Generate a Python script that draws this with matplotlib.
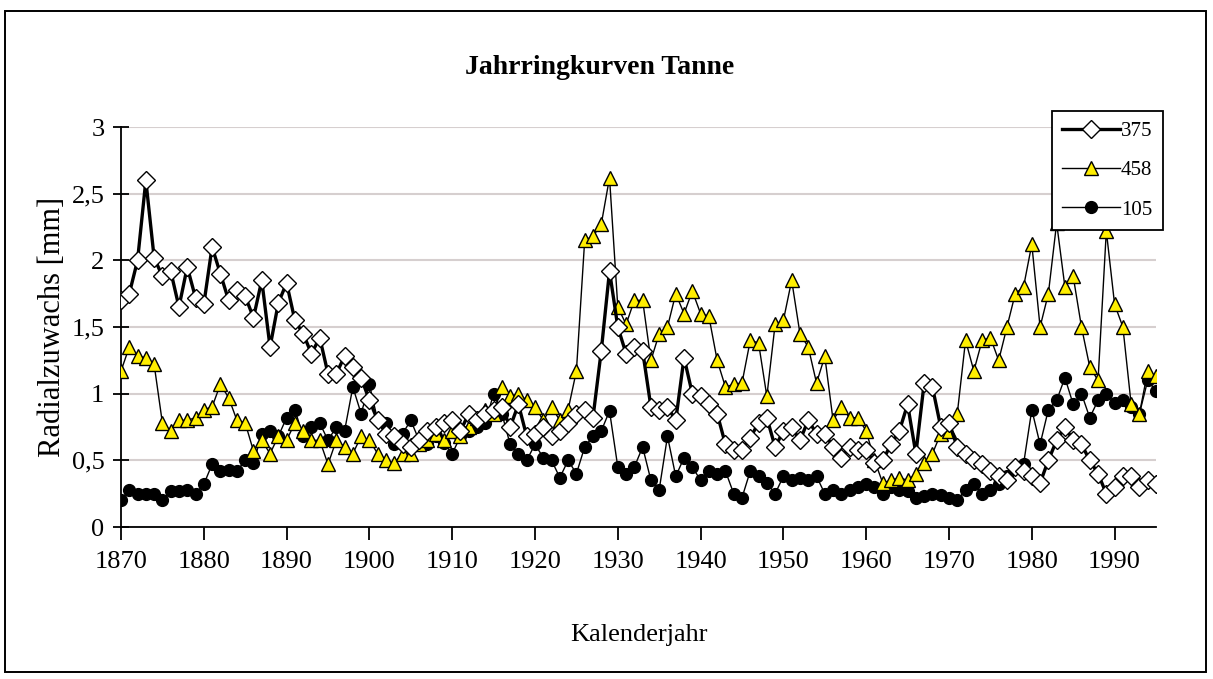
import numpy as np
import matplotlib
matplotlib.use("Agg")
import matplotlib.pyplot as plt
from matplotlib.patches import Rectangle
from matplotlib.lines import Line2D

plt.rcParams['font.family'] = ['Liberation Serif', 'DejaVu Serif']

years = list(range(1870, 1996))

s375 = [1.70, 1.75, 2.00, 2.60, 2.02, 1.88, 1.92, 1.65, 1.95, 1.72,
        1.67, 2.10, 1.90, 1.70, 1.78, 1.73, 1.57, 1.85, 1.35, 1.68,
        1.83, 1.55, 1.45, 1.30, 1.42, 1.15, 1.15, 1.28, 1.20, 1.12,
        0.95, 0.80, 0.70, 0.68, 0.62, 0.60, 0.65, 0.72, 0.75, 0.78,
        0.80, 0.72, 0.85, 0.80, 0.85, 0.88, 0.90, 0.75, 0.92, 0.68,
        0.70, 0.75, 0.68, 0.72, 0.78, 0.85, 0.88, 0.82, 1.32, 1.92,
        1.50, 1.30, 1.35, 1.32, 0.90, 0.88, 0.90, 0.80, 1.27, 1.00,
        0.98, 0.92, 0.85, 0.62, 0.58, 0.58, 0.67, 0.78, 0.82, 0.60,
        0.72, 0.75, 0.65, 0.80, 0.70, 0.70, 0.60, 0.52, 0.60, 0.58,
        0.58, 0.48, 0.50, 0.62, 0.72, 0.92, 0.55, 1.08, 1.05, 0.75,
        0.78, 0.60, 0.55, 0.50, 0.47, 0.42, 0.38, 0.35, 0.45, 0.42,
        0.38, 0.33, 0.50, 0.65, 0.75, 0.65, 0.62, 0.50, 0.40, 0.25,
        0.30, 0.38, 0.38, 0.30, 0.35, 0.32]

s458 = [1.17, 1.35, 1.28, 1.27, 1.22, 0.78, 0.72, 0.80, 0.80, 0.82,
        0.88, 0.90, 1.07, 0.97, 0.80, 0.78, 0.57, 0.65, 0.55, 0.68,
        0.65, 0.78, 0.72, 0.65, 0.65, 0.47, 0.65, 0.60, 0.55, 0.68,
        0.65, 0.55, 0.50, 0.48, 0.55, 0.55, 0.62, 0.65, 0.70, 0.65,
        0.72, 0.68, 0.75, 0.82, 0.88, 0.85, 1.05, 0.98, 1.00, 0.95,
        0.90, 0.80, 0.90, 0.80, 0.88, 1.17, 2.15, 2.18, 2.27, 2.62,
        1.65, 1.52, 1.70, 1.70, 1.25, 1.45, 1.50, 1.75, 1.60, 1.77,
        1.60, 1.58, 1.25, 1.05, 1.07, 1.08, 1.40, 1.38, 0.98, 1.52,
        1.55, 1.85, 1.45, 1.35, 1.08, 1.28, 0.80, 0.90, 0.82, 0.82,
        0.72, 0.50, 0.33, 0.35, 0.37, 0.35, 0.40, 0.48, 0.55, 0.70,
        0.72, 0.85, 1.40, 1.17, 1.40, 1.42, 1.25, 1.50, 1.75, 1.80,
        2.12, 1.50, 1.75, 2.28, 1.80, 1.88, 1.50, 1.20, 1.10, 2.22,
        1.67, 1.50, 0.92, 0.85, 1.17, 1.13]

s105 = [0.20, 0.28, 0.25, 0.25, 0.25, 0.20, 0.27, 0.27, 0.28, 0.25,
        0.32, 0.47, 0.42, 0.43, 0.42, 0.50, 0.48, 0.70, 0.72, 0.68,
        0.82, 0.88, 0.68, 0.75, 0.78, 0.65, 0.75, 0.72, 1.05, 0.85,
        1.07, 0.80, 0.78, 0.62, 0.70, 0.80, 0.65, 0.62, 0.68, 0.63,
        0.55, 0.68, 0.72, 0.75, 0.78, 1.00, 0.85, 0.62, 0.55, 0.50,
        0.62, 0.52, 0.50, 0.37, 0.50, 0.40, 0.60, 0.68, 0.72, 0.87,
        0.45, 0.40, 0.45, 0.60, 0.35, 0.28, 0.68, 0.38, 0.52, 0.45,
        0.35, 0.42, 0.40, 0.42, 0.25, 0.22, 0.42, 0.38, 0.33, 0.25,
        0.38, 0.35, 0.37, 0.35, 0.38, 0.25, 0.28, 0.25, 0.28, 0.30,
        0.32, 0.30, 0.25, 0.30, 0.28, 0.27, 0.22, 0.23, 0.25, 0.24,
        0.22, 0.20, 0.28, 0.32, 0.25, 0.28, 0.32, 0.38, 0.45, 0.47,
        0.88, 0.62, 0.88, 0.95, 1.12, 0.92, 1.00, 0.82, 0.95, 1.00,
        0.93, 0.95, 0.90, 0.85, 1.10, 1.02]

W, H = 1213, 679
fig = plt.figure(figsize=(W / 100, H / 100), dpi=100)
fig.patch.set_facecolor("white")
# outer chart border
fig.patches.append(Rectangle((5 / W, 7 / H), 1201 / W, 661 / H, transform=fig.transFigure,
                             fill=False, ec="black", lw=1.4))

L, R, T, B = 121, 1156, 127, 527   # plot area in pixels; legend sits on top of it (as in Excel)
ax = fig.add_axes([L / W, 1 - B / H, (R - L) / W, (B - T) / H])
ax.plot(years, s105, color="black", lw=1.0, marker="o", ms=8.5, mfc="black", mec="black", label="105", zorder=3)
ax.plot(years, s458, color="black", lw=1.0, marker="^", ms=10, mfc="#ffee00", mec="black", mew=1.0, label="458", zorder=4)
ax.plot(years, s375, color="black", lw=2.4, marker="D", ms=9, mfc="white", mec="black", mew=1.0, label="375", zorder=5)

ax.set_xlim(1870, 1995)
ax.set_ylim(0, 3)
ax.set_xticks(range(1870, 1991, 10))
ax.set_yticks(np.arange(0, 3.01, 0.5))
ax.set_yticklabels(["0", "0,5", "1", "1,5", "2", "2,5", "3"])
ax.yaxis.grid(True, color="#d6cfcf", lw=1.5)
ax.set_axisbelow(True)
for sp in ["top", "right"]:
    ax.spines[sp].set_visible(False)
ax.spines["left"].set_linewidth(1.3)
ax.spines["bottom"].set_linewidth(1.3)
ax.tick_params(axis="y", direction="inout", length=12, width=1.3, labelsize=19, pad=6)
ax.tick_params(axis="x", direction="out", length=9, width=1.3, labelsize=19, pad=8)

ax.set_ylabel("Radialzuwachs [mm]", fontsize=22)
ax.yaxis.set_label_coords(-0.052, 0.5)   # overlaps the tick labels a little, like the original
ax.set_xlabel("Kalenderjahr", fontsize=19, labelpad=37)
fig.text(600 / W, 1 - 68 / H, "Jahrringkurven Tanne", ha="center", va="center",
         fontsize=20, fontweight="bold")

handles = [Line2D([], [], color="black", lw=2.4, marker="D", ms=9, mfc="white", mec="black"),
           Line2D([], [], color="black", lw=1.0, marker="^", ms=10, mfc="#ffee00", mec="black"),
           Line2D([], [], color="black", lw=1.0, marker="o", ms=8.5, mfc="black", mec="black")]
leg = fig.legend(handles, ["375", "458", "105"], loc="upper left",
                 bbox_to_anchor=(1052 / W, 1 - 111 / H), fontsize=15, frameon=True,
                 fancybox=False, edgecolor="black", facecolor="white", framealpha=1,
                 handlelength=2.75, handletextpad=0.05, borderpad=0.5, labelspacing=0.95,
                 borderaxespad=0)
leg.get_frame().set_linewidth(1.3)
leg.set_zorder(10)

fig.savefig("out.png", dpi=100)
